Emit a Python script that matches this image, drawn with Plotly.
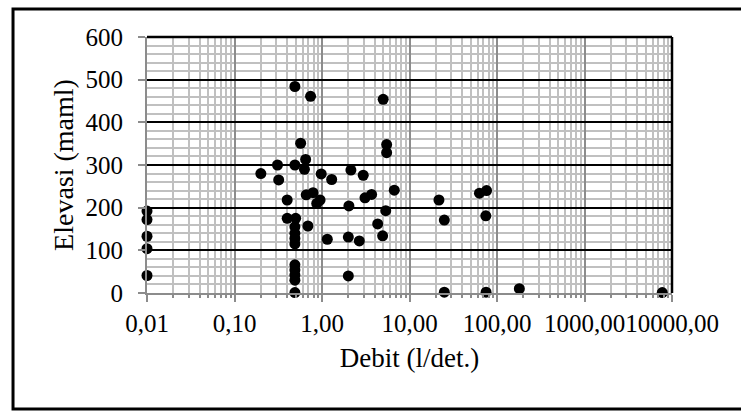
import plotly.graph_objects as go

# Data
debit = [0.01, 0.01, 0.01, 0.01, 0.01,
         0.20, 0.31, 0.32, 0.49, 0.65, 0.63, 0.98, 1.29,
         0.40, 0.40, 0.50, 0.49, 0.49, 0.49, 0.49, 0.69,
         0.49, 0.49, 0.49, 0.49, 0.49,
         0.66, 0.79, 0.87, 0.95, 1.15,
         0.49, 0.74, 0.57,
         5.0, 5.48, 5.48, 2.14, 2.96, 6.70, 3.1, 3.69, 2.03, 5.35, 4.33, 4.93, 2.0, 2.67, 2.0,
         21.7, 25.0, 63, 76, 74.5, 25, 75, 180, 7740]
elevasi = [192, 172, 133, 104, 41,
           280, 300, 265, 300, 313, 290, 279, 266,
           218, 175, 175, 155, 140, 128, 115, 157,
           66, 54, 42, 30, 1,
           230, 235, 210, 218, 126,
           484, 461, 351,
           454, 348, 329, 288, 276, 241, 223, 231, 204, 193, 162, 134, 131, 122, 40,
           218, 171, 234, 240, 181, 2, 2, 10, 1]

x_tickvals = [0.01, 0.1, 1, 10, 100, 1000, 10000]
x_ticktext = ["0,01", "0,10", "1,00", "10,00", "100,00", "1000,00", "10000,00"]
x_minor = [m * d for d in [0.01, 0.1, 1, 10, 100, 1000] for m in range(2, 10)]
y_tickvals = [0, 100, 200, 300, 400, 500, 600]

fig = go.Figure(go.Scatter(
    x=debit, y=elevasi, mode="markers",
    marker=dict(color="black", size=11),
    cliponaxis=False,
))

fig.update_layout(
    width=741, height=411,
    margin=dict(l=147, r=69, t=37, b=118, autoexpand=False),
    paper_bgcolor="white", plot_bgcolor="white",
    showlegend=False,
    font=dict(family="Liberation Serif", size=25, color="black"),
)

fig.update_xaxes(
    type="log", range=[-2, 4],
    tickmode="array", tickvals=x_tickvals, ticktext=x_ticktext,
    tickangle=0,
    showgrid=True, gridcolor="#8c8c8c", gridwidth=1.5,
    showline=True, linecolor="#8c8c8c", linewidth=2,
    ticks="outside", ticklen=7, tickcolor="#8c8c8c", tickwidth=1.5,
    zeroline=False,
    minor=dict(tickmode="array", tickvals=x_minor, showgrid=True,
               gridcolor="#c0c0c0", gridwidth=2,
               ticks="outside", ticklen=3, tickcolor="#8c8c8c"),
    title=dict(text="Debit (l/det.)", standoff=12, font=dict(size=27)),
    automargin=False,
)

fig.update_yaxes(
    range=[0, 600], tickmode="array", tickvals=y_tickvals,
    showgrid=True, gridcolor="black", gridwidth=2,
    showline=True, linecolor="#8c8c8c", linewidth=2,
    ticks="outside", ticklen=7, tickcolor="#8c8c8c", tickwidth=1.5,
    ticklabelstandoff=10,
    zeroline=False,
    minor=dict(dtick=20, showgrid=True, gridcolor="#c0c0c0", gridwidth=2, ticks=""),
    title=dict(text="Elevasi (maml)", standoff=4, font=dict(size=28)),
    automargin=False,
)

# plot-area frame (top and right) and outer chart border
fig.add_shape(type="line", xref="paper", yref="paper", x0=0, x1=1, y0=1, y1=1,
              line=dict(color="black", width=2.5), layer="above")
fig.add_shape(type="line", xref="paper", yref="paper", x0=1, x1=1, y0=0, y1=1,
              line=dict(color="black", width=2.5), layer="above")
fig.add_shape(type="rect", xref="paper", yref="paper",
              x0=-0.2552, x1=1.14, y0=-0.453, y1=1.109,
              line=dict(color="black", width=3), layer="above")

fig.write_html("out.html")
